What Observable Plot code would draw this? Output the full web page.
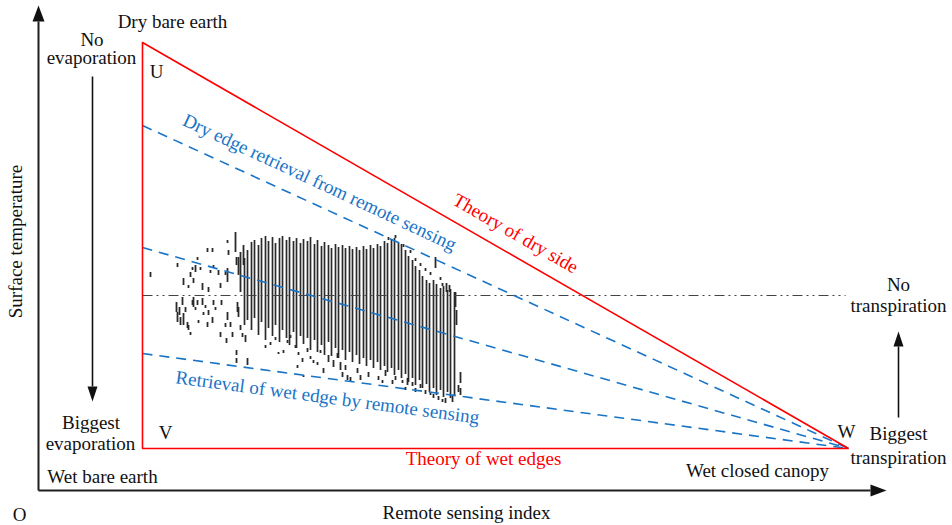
<!DOCTYPE html>
<html><head><meta charset="utf-8">
<script src="https://cdn.jsdelivr.net/npm/d3@7"></script>
<script src="https://cdn.jsdelivr.net/npm/@observablehq/plot@0.6"></script>
<style>html,body{margin:0;padding:0;background:#fff;} #chart{width:952px;height:525px;}</style>
</head><body><div id="chart"></div>
<script>
// ---- Data (arbitrary units: remote sensing index on x, surface temperature on y) ----
// Theoretical triangle vertices U (dry bare earth), V (wet bare earth), W (wet closed canopy)
const triX = [10.4, 10.4, 81.0, 10.4];
const triY = [89.6, 8.4, 8.4, 89.6];
// Remote-sensing retrieved edges: start values at left edge, all converge at W
const edgeStartX = [10.4, 10.4, 10.4];
const edgeStartY = [73.0, 48.6, 27.4];
const edgeEndX = 81.0;
const edgeEndY = 8.4;
// No-transpiration reference level (dash-dot line)
const refLineX = [10.4, 80.7];
const refLineY = 39.0;

// Long vertical pixel columns of the scatter
const barX = [20.6,20.9,21.3,21.6,22.0,22.3,22.7,23.0,23.4,23.7,24.1,24.4,24.8,25.1,25.5,25.8,26.2,26.5,26.9,27.2,27.6,27.9,28.3,28.6,29.0,29.3,29.7,30.0,30.4,30.7,31.1,31.4,31.8,32.1,32.5,32.8,33.2,33.5,33.9,34.2,34.6,34.9,35.3,35.6,36.0,36.3,36.7,37.0,37.4,37.7,38.1,38.4,38.8,39.1,39.5,39.8,40.2,40.5,40.9,41.2,41.6];
const barTop = [46.4,48.0,49.6,50.0,49.0,50.4,50.8,49.8,50.6,49.4,50.4,50.8,50.0,50.6,49.8,50.4,49.4,50.2,49.8,50.6,49.2,50.0,48.8,49.6,49.0,48.4,49.2,48.6,49.0,48.4,48.8,48.2,48.6,48.0,48.8,48.2,49.0,48.4,49.2,48.8,49.8,49.4,50.0,50.4,49.6,49.2,48.0,46.8,46.0,44.8,44.0,42.8,42.0,41.4,42.0,41.2,40.4,40.8,40.0,40.2,39.6];
const barBottom = [33.0,34.0,32.0,34.4,31.0,33.6,30.0,32.4,30.8,33.0,29.6,32.0,30.4,29.0,31.6,28.4,30.8,29.2,30.4,28.0,30.0,27.6,29.0,27.0,29.6,26.8,28.4,26.4,28.0,26.0,27.6,25.6,27.0,25.2,26.4,24.8,26.0,24.4,25.6,24.0,24.8,23.6,24.4,23.0,24.0,22.4,23.2,21.6,22.4,21.0,22.0,20.4,21.2,19.6,20.4,19.0,20.0,18.6,19.6,18.4,18.8];

// Short scattered pixel segments
const segX = [
 11.2,13.9,14.5,15.0,15.2,15.4,15.5,15.7,15.9,16.2,16.4,16.9,17.0,17.2,17.4,17.5,18.0,18.2,18.7,18.9,19.0,18.9,19.7,19.8,20.0,20.2,20.5,
 13.8,14.1,13.9,14.2,14.4,14.5,14.7,14.9,15.0,15.2,15.4,15.5,15.7,15.9,16.0,16.4,16.5,16.7,16.9,17.0,17.4,17.5,17.7,18.2,18.3,18.7,18.8,18.9,19.2,19.4,19.8,19.8,19.9,20.0,20.2,20.4,20.7,20.9,
 22.7,23.2,23.7,24.0,24.5,24.9,25.2,25.7,25.9,26.0,26.4,26.5,26.9,27.2,27.5,27.9,28.2,28.5,29.0,29.5,29.9,30.2,30.4,30.7,30.9,
 31.2,31.9,32.2,33.0,34.0,34.4,34.7,35.4,35.7,36.4,36.7,36.9,37.4,37.7,38.2,38.7,39.2,39.5,40.0,40.4,40.7,41.4,42.0,42.2,42.2,39.7,40.2,40.4,40.8,41.1,41.7,41.8,35.0,35.7,36.5,37.2,37.7,38.2,38.7,39.2];
const segTop = [
 43.6,45.4,42.4,41.0,43.6,44.6,42.4,45.0,46.6,44.6,41.4,48.4,40.6,44.0,48.4,45.0,44.0,41.4,43.6,50.0,48.0,44.4,51.6,46.6,46.6,47.6,49.0,
 37.6,36.6,35.6,34.6,38.6,35.4,36.6,33.6,33.0,31.6,38.0,38.6,36.6,38.0,34.0,38.4,35.6,37.0,33.6,36.0,34.6,38.0,36.6,31.6,38.0,33.4,30.4,35.6,33.6,31.6,28.0,26.4,37.6,36.6,33.0,31.4,31.0,26.4,
 29.0,29.6,30.6,27.6,28.0,30.0,31.0,29.0,25.0,27.6,26.4,23.0,28.4,26.8,26.0,25.6,28.0,24.4,27.0,26.0,27.4,25.6,23.6,25.0,23.0,
 22.6,24.4,23.0,23.6,22.8,22.0,24.0,22.0,22.8,22.0,20.6,22.4,21.6,20.4,21.2,20.0,19.6,19.2,18.8,18.2,18.4,18.8,21.0,23.6,20.4,46.6,42.6,41.4,41.4,41.0,39.6,36.0,50.6,51.0,49.2,48.0,46.4,45.4,44.4,43.6];
const segBottom = [
 42.6,44.6,41.0,40.4,42.6,44.0,41.4,43.6,46.0,44.0,40.0,47.6,39.6,43.4,47.6,44.4,43.0,40.4,43.0,49.4,47.0,41.6,47.6,45.0,43.0,39.6,45.0,
 35.6,35.0,33.6,33.0,37.0,33.0,35.6,32.4,32.0,31.0,37.0,36.6,36.0,37.0,33.4,37.0,35.0,36.4,32.6,35.0,33.4,37.0,36.0,30.6,37.0,32.6,29.4,34.0,32.6,30.6,27.0,25.4,35.6,34.6,32.0,30.6,29.6,25.0,
 28.4,29.0,30.0,27.2,27.4,29.4,30.4,28.4,24.4,27.0,25.6,22.6,27.6,26.2,25.4,25.0,27.4,23.4,25.6,24.6,26.4,24.0,22.6,24.0,22.0,
 21.6,23.4,22.0,22.6,22.0,21.4,22.8,21.2,22.0,21.4,20.0,21.0,20.8,19.6,20.4,19.2,19.0,18.4,18.0,17.6,17.4,17.6,19.6,21.4,19.0,44.4,42.0,40.8,39.6,39.6,36.6,33.0,50.0,50.4,48.6,47.4,45.8,44.8,43.8,43.0];

// Axis arrows (x1,y1 -> x2,y2) and indicator arrows
const axisX1 = [0, 0], axisY1 = [0, 0], axisX2 = [0, 83.2], axisY2 = [93.8, 0];
const indX1 = [5.4, 86.0], indY1 = [82.8, 14.6], indX2 = [5.4, 86.0], indY2 = [20.8, 28.8];

// Labels
const blackLabels = ["Dry bare earth","No","evaporation","U","Biggest","evaporation","V","Wet bare earth","O","Remote sensing index","Wet closed canopy","W","Biggest","transpiration","No","transpiration","Surface temperature"];
const blackX = [13.4,5.35,5.3,11.8,5.25,5.2,12.7,6.4,-1.9,42.8,71.9,80.8,86.0,86.0,86.0,86.0,-2.3];
const blackY = [93.8,90.2,86.6,83.8,13.6,9.4,11.6,2.8,-4.8,-4.4,4.0,11.8,11.4,6.6,41.2,37.0,49.8];
const blackRot = [0,0,0,0,0,0,0,0,0,0,0,0,0,0,0,0,-90];
const redLabels = ["Theory of wet edges","Theory of dry side"];
const redX = [44.5,47.7], redY = [6.4,51.4], redRot = [0,29.9];
const blueLabels = ["Dry edge retrieval from remote sensing","Retrieval of wet edge by remote sensing"];
const blueX = [28.1,28.9], blueY = [61.6,18.6], blueRot = [25,7.6];

// ---- Build tables ----
const tri = triX.map((x,i)=>({x, y: triY[i]}));
const edges = edgeStartX.map((x,i)=>({x1:x, y1:edgeStartY[i], x2:edgeEndX, y2:edgeEndY}));
const bars = barX.map((x,i)=>({x, y1:barTop[i], y2:barBottom[i]}));
const segs = segX.map((x,i)=>({x, y1:segTop[i], y2:segBottom[i]}));
const axes = axisX1.map((x,i)=>({x1:x, y1:axisY1[i], x2:axisX2[i], y2:axisY2[i]}));
const inds = indX1.map((x,i)=>({x1:x, y1:indY1[i], x2:indX2[i], y2:indY2[i]}));
const lab = (t,xs,ys,rs)=>t.map((s,i)=>({text:s, x:xs[i], y:ys[i], r:rs[i]}));

function headSymbol(dx, dy, L, W) {
  return {draw(ctx){ const px=-dy, py=dx;
    ctx.moveTo(dx*L, dy*L); ctx.lineTo(px*W, py*W); ctx.lineTo(-px*W, -py*W); ctx.closePath(); }};
}
function heads(arr, L, W, fill) {
  return arr.map(d => {
    const dx = Math.sign(d.x2 - d.x1), dy = -Math.sign(d.y2 - d.y1);
    return Plot.dot([d], {x:"x2", y:"y2", symbol: headSymbol(dx, dy, L, W), fill, stroke:"none", r:4});
  });
}

const font = "'Liberation Serif','Times New Roman',serif";
const plot = Plot.plot({
  width: 952, height: 525, margin: 0,
  style: {background:"#fff", fontFamily: font, fontSize:"19px", overflow:"visible"},
  x: {domain:[0,85], range:[38,888], axis:null},
  y: {domain:[0,97], range:[490,5], axis:null},
  marks: [
    Plot.ruleX(bars, {x:"x", y1:"y1", y2:"y2", stroke:"#2a2a2a", strokeWidth:1.7}),
    Plot.ruleX(segs, {x:"x", y1:"y1", y2:"y2", stroke:"#2a2a2a", strokeWidth:1.8}),
    Plot.link([{x1:refLineX[0], x2:refLineX[1], y1:refLineY, y2:refLineY}], {x1:"x1", x2:"x2", y1:"y1", y2:"y2", stroke:"#444", strokeWidth:1.2, strokeDasharray:"10,4,2,4,2,4"}),
    Plot.link(edges, {x1:"x1", y1:"y1", x2:"x2", y2:"y2", stroke:"#1a74c6", strokeWidth:1.6, strokeDasharray:"10,7"}),
    Plot.line(tri, {x:"x", y:"y", stroke:"#ff0000", strokeWidth:1.6, strokeLinejoin:"miter"}),
    Plot.link(axes, {x1:"x1", y1:"y1", x2:"x2", y2:"y2", stroke:"#1e1e1e", strokeWidth:2}),
    ...heads(axes, 16, 6, "#111"),
    Plot.link(inds, {x1:"x1", y1:"y1", x2:"x2", y2:"y2", stroke:"#111", strokeWidth:1.6}),
    ...heads(inds, 15, 5, "#111"),
    Plot.text(lab(blackLabels, blackX, blackY, blackRot), {x:"x", y:"y", text:"text", rotate:"r", fill:"#111", fontSize:19, fontFamily:font}),
    Plot.text(lab(redLabels, redX, redY, redRot), {x:"x", y:"y", text:"text", rotate:"r", fill:"#ff0000", fontSize:19, fontFamily:font}),
    Plot.text(lab(blueLabels, blueX, blueY, blueRot), {x:"x", y:"y", text:"text", rotate:"r", fill:"#1a74c6", fontSize:19, fontFamily:font})
  ]
});
document.getElementById("chart").append(plot);
</script>
</body></html>
